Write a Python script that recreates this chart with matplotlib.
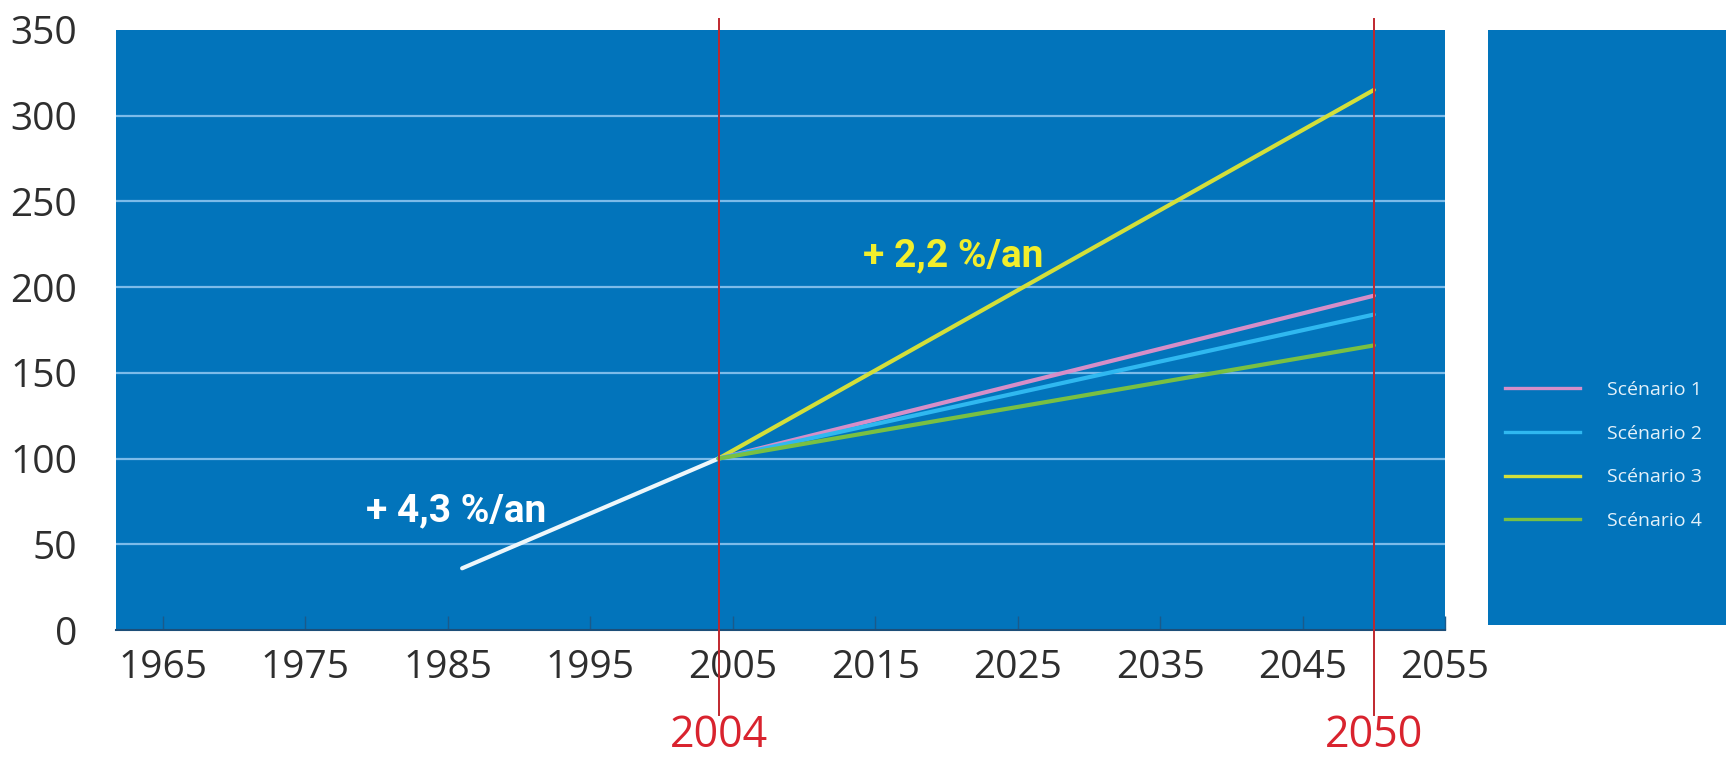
import matplotlib
matplotlib.use("Agg")
import matplotlib.pyplot as plt
from matplotlib.lines import Line2D

# historical trend up to the reference year
hist_years = [1986, 2004]
hist_values = [36, 100]

# projections from 2004 to 2050 (index 100 in 2004)
proj_years = [2004, 2050]
scenario_labels = ["Scénario 1", "Scénario 2", "Scénario 3", "Scénario 4"]
scenario_end = [195, 184, 315, 166]
scenario_colors = ["#d68ec8", "#2fb8f0", "#d3df3a", "#79c043"]

x_ticks = [1965, 1975, 1985, 1995, 2005, 2015, 2025, 2035, 2045, 2055]
y_ticks = [0, 50, 100, 150, 200, 250, 300, 350]
marker_years = [2004, 2050]

blue = "#0274bb"
plt.rcParams["font.family"] = ["Open Sans", "DejaVu Sans"]

fig = plt.figure(figsize=(17.26, 7.63), dpi=100)
ax = fig.add_axes([0.0672, 0.1743, 0.770, 0.7864])
ax.set_facecolor(blue)

for y in y_ticks[1:-1]:
    ax.axhline(y, color="#7cbbe9", lw=1.6, zorder=1)

ax.plot(hist_years, hist_values, color="#eef7fb", lw=3, solid_capstyle="round", zorder=3)
handles = []
# draw scenario 3 first so the lower lines sit on top near 2004
for i in [2, 0, 1, 3]:
    ax.plot(proj_years, [100, scenario_end[i]], color=scenario_colors[i], lw=3,
            solid_capstyle="round", zorder=3)
for i in range(4):
    handles.append(Line2D([], [], color=scenario_colors[i], lw=2.4))

for yr in marker_years:
    ax.axvline(yr, ymin=-0.142, ymax=1.018, color="#c0272d", lw=1.4,
               clip_on=False, zorder=4)
    ax.text(yr, -0.2133, str(yr), transform=ax.get_xaxis_transform(),
            ha="center", va="bottom", fontsize=31, color="#d9232e")

# growth rates
ax.text(1985.6, 63.3, "+ 4,3 %/an", color="white", fontsize=28, fontweight="bold",
        family=["Roboto", "DejaVu Sans"], ha="center", va="baseline")
ax.text(2020.5, 212, "+ 2,2 %/an", color="#f2ee2c", fontsize=28, fontweight="bold",
        family=["Roboto", "DejaVu Sans"], ha="center", va="baseline")

ax.set_xlim(1961.7, 2055)
ax.set_ylim(0, 350)
ax.set_xticks(x_ticks)
ax.set_yticks(y_ticks)
ax.tick_params(axis="x", direction="in", length=10, width=1, color="#1b5a8a",
               labelsize=28, labelcolor="#2e2e2e", pad=14)
ax.tick_params(axis="y", length=0, labelsize=28, labelcolor="#2e2e2e", pad=28)
for side in ["top", "right", "left"]:
    ax.spines[side].set_visible(False)
ax.spines["bottom"].set_color("#1d4e78")
ax.spines["bottom"].set_linewidth(1.5)

# legend panel
lax = fig.add_axes([0.862, 0.181, 0.2, 0.780])
lax.set_facecolor(blue)
lax.set_xticks([])
lax.set_yticks([])
for s in lax.spines.values():
    s.set_visible(False)
fig.legend(handles, scenario_labels, loc="center left", bbox_to_anchor=(0.872, 0.403),
           frameon=False, fontsize=14, labelcolor="#e3f1fa", handlelength=3.85,
           handletextpad=1.4, labelspacing=1.32, borderpad=0, borderaxespad=0)

fig.savefig("out.png", dpi=100, facecolor="white")
